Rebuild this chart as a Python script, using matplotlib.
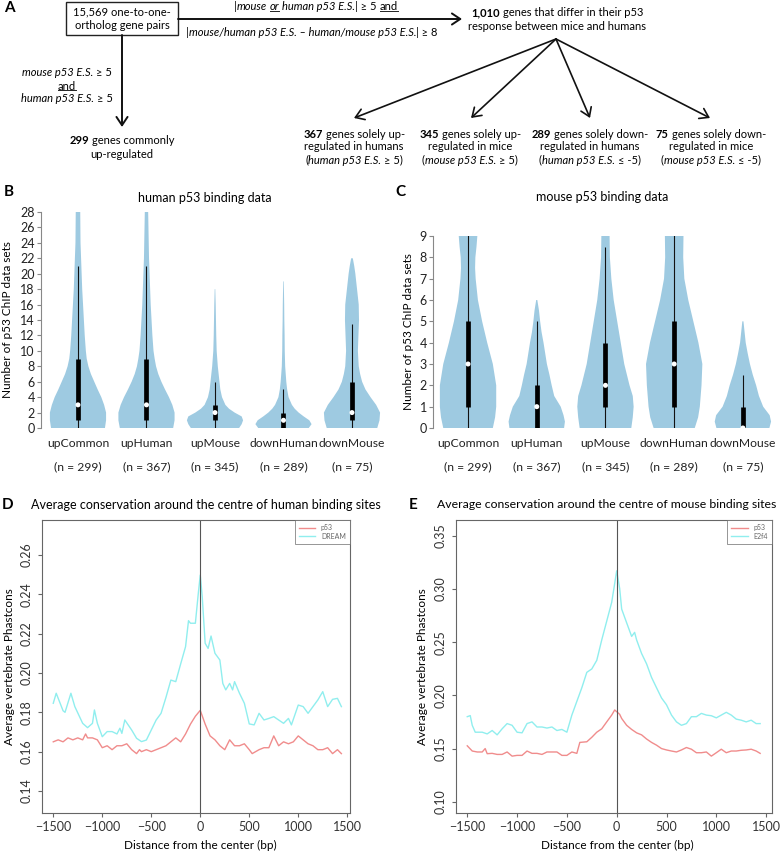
import numpy as np
import matplotlib
matplotlib.use('Agg')
import matplotlib.pyplot as plt
from matplotlib.patches import Rectangle
from matplotlib.lines import Line2D

plt.rcParams['font.family'] = ['Lato', 'DejaVu Sans']

W, H = 780, 851

# ---------------- panel B / C data ----------------
groups = ['upCommon', 'upHuman', 'upMouse', 'downHuman', 'downMouse']
group_n = [299, 367, 345, 289, 75]

# violin outlines (y level, relative half width)
hum_vy = [[0, 1, 2, 3, 4, 5, 6, 7, 8, 9, 10, 12, 14, 16, 18, 20, 22, 24, 26, 28, 29],
          [0, 1, 2, 3, 4, 5, 6, 7, 8, 9, 10, 12, 14, 16, 18, 20, 22, 24, 26, 28, 29],
          [0, 0.5, 1, 1.5, 2, 2.5, 3, 4, 5, 6, 7, 8, 10, 12, 14, 16, 18],
          [0, 0.5, 1, 1.5, 2, 2.5, 3, 4, 5, 6, 8, 10, 12, 14, 16, 19],
          [0, 1, 2, 3, 4, 5, 6, 7, 8, 10, 12, 14, 16, 18, 20, 21, 22]]
hum_vw = [[0.96, 1.0, 1.0, 0.93, 0.83, 0.7, 0.58, 0.46, 0.37, 0.31, 0.28, 0.24, 0.21, 0.18, 0.15, 0.13, 0.11, 0.09, 0.085, 0.08, 0.08],
          [0.95, 1.0, 1.0, 0.92, 0.8, 0.66, 0.53, 0.42, 0.34, 0.29, 0.25, 0.21, 0.18, 0.15, 0.13, 0.11, 0.09, 0.08, 0.07, 0.06, 0.06],
          [0.86, 0.95, 1.0, 0.95, 0.7, 0.5, 0.37, 0.25, 0.19, 0.16, 0.13, 0.1, 0.06, 0.045, 0.035, 0.025, 0.01],
          [0.9, 1.0, 0.92, 0.72, 0.54, 0.4, 0.3, 0.18, 0.13, 0.1, 0.06, 0.045, 0.04, 0.03, 0.025, 0.01],
          [0.9, 0.98, 1.0, 0.86, 0.66, 0.48, 0.36, 0.29, 0.24, 0.21, 0.23, 0.25, 0.24, 0.18, 0.12, 0.08, 0.03]]
hum_lo = [0, 0, 0, 0, 0]
hum_q1 = [1, 1, 1, 0, 1]
hum_med = [3, 3, 2, 1, 2]
hum_q3 = [9, 9, 3, 2, 6]
hum_hi = [21, 21, 6, 5, 13.5]

mus_vy = [[0, 0.5, 1, 2, 3, 4, 5, 6, 7, 7.5, 8, 8.5, 9, 9.5],
          [0, 0.3, 0.6, 1, 1.5, 2, 2.5, 3, 3.5, 4, 4.5, 5, 5.5, 6],
          [0, 0.5, 1, 1.5, 2, 3, 4, 5, 6, 7, 8, 9, 9.5],
          [0, 0.5, 1, 2, 3, 4, 5, 6, 7, 8, 9, 9.5],
          [0, 0.3, 0.6, 1, 1.5, 2, 2.5, 3, 3.5, 4, 4.5, 5]]
mus_vw = [[0.88, 0.96, 1.0, 1.0, 0.88, 0.68, 0.5, 0.35, 0.27, 0.25, 0.26, 0.3, 0.33, 0.35],
          [0.97, 1.0, 0.95, 0.85, 0.62, 0.53, 0.45, 0.36, 0.3, 0.24, 0.17, 0.12, 0.08, 0.02],
          [0.88, 0.93, 0.96, 0.93, 0.82, 0.64, 0.52, 0.4, 0.28, 0.2, 0.15, 0.14, 0.14],
          [0.73, 0.85, 0.91, 0.97, 1.0, 0.86, 0.68, 0.5, 0.36, 0.32, 0.33, 0.34],
          [0.94, 1.0, 0.95, 0.72, 0.57, 0.47, 0.35, 0.25, 0.17, 0.1, 0.06, 0.02]]
mus_lo = [0, 0, 0, 0, 0]
mus_q1 = [1, 0, 1, 1, 0]
mus_med = [3, 1, 2, 3, 0]
mus_q3 = [5, 2, 4, 5, 1]
mus_hi = [9.5, 5, 8.5, 9.5, 2.5]

# ---------------- panel D / E data ----------------
d_p53_x = [-1500, -1450, -1400, -1350, -1300, -1250, -1200, -1170, -1150, -1100, -1050, -1000,
           -950, -900, -850, -800, -750, -700, -650, -620, -600, -550, -500, -450, -400, -350,
           -300, -250, -200, -150, -100, -50, 0, 50, 100, 150, 200, 250, 300, 350, 400, 450,
           500, 530, 600, 650, 700, 750, 800, 850, 900, 950, 1000, 1050, 1100, 1150, 1200,
           1250, 1300, 1350, 1400, 1440]
d_p53 = [0.165, 0.166, 0.165, 0.167, 0.166, 0.167, 0.166, 0.169, 0.167, 0.167, 0.166, 0.162,
         0.163, 0.161, 0.163, 0.163, 0.164, 0.161, 0.159, 0.161, 0.160, 0.161, 0.160, 0.161, 0.162, 0.163,
         0.165, 0.167, 0.165, 0.169, 0.174, 0.178, 0.181, 0.174, 0.168, 0.166, 0.163, 0.161, 0.166, 0.163, 0.163, 0.164,
         0.161, 0.159, 0.161, 0.162, 0.162, 0.168, 0.163, 0.165, 0.164, 0.165, 0.168, 0.166, 0.164, 0.163, 0.161,
         0.161, 0.162, 0.159, 0.161, 0.159]
d_dream_x = [-1500, -1470, -1400, -1380, -1320, -1280, -1200, -1150, -1100, -1080, -1050, -1000,
             -950, -900, -850, -820, -800, -770, -700, -650, -600, -550, -500, -450, -400, -350,
             -300, -250, -200, -150, -120, -100, -50, -20, 0, 20, 50, 80, 110, 150, 200, 230,
             260, 300, 330, 350, 400, 450, 500, 550, 600, 650, 700, 750, 800, 850, 900, 930,
             1000, 1050, 1100, 1150, 1200, 1250, 1300, 1350, 1400, 1440]
d_dream = [0.1846, 0.1897, 0.1808, 0.180, 0.1897, 0.1829, 0.1744, 0.1722, 0.1744, 0.1812, 0.1744, 0.1676,
           0.1702, 0.1702, 0.169, 0.1719, 0.1693, 0.1761, 0.171, 0.1668, 0.1651, 0.1659, 0.171, 0.1761, 0.1795, 0.1876,
           0.1964, 0.1956, 0.2046, 0.2134, 0.2266, 0.2253, 0.2253, 0.2405, 0.2498, 0.2388, 0.2151, 0.2125, 0.2188, 0.21, 0.2066, 0.1947,
           0.1914, 0.1947, 0.1914, 0.1956, 0.1897, 0.1846, 0.1741, 0.1736, 0.1795, 0.1761, 0.1769, 0.1778, 0.1761, 0.1744, 0.1769, 0.1736,
           0.1837, 0.1829, 0.1795, 0.1829, 0.1863, 0.1905, 0.1829, 0.1866, 0.1871, 0.1829]

e_p53_x = [-1500, -1450, -1400, -1350, -1320, -1300, -1250, -1200, -1150, -1100, -1050, -1000,
           -950, -900, -850, -800, -750, -700, -650, -600, -550, -500, -450, -400, -370, -300,
           -250, -200, -150, -100, -50, -20, 0, 30, 50, 100, 150, 200, 250, 300, 350, 400,
           450, 500, 550, 600, 650, 700, 750, 800, 850, 900, 950, 1000, 1050, 1100, 1150,
           1200, 1250, 1300, 1350, 1400, 1440]
e_p53 = [0.1526, 0.1477, 0.1468, 0.1468, 0.150, 0.1452, 0.1455, 0.1445, 0.1445, 0.1468, 0.1429, 0.1436,
         0.1436, 0.1477, 0.1455, 0.1455, 0.1445, 0.1468, 0.1468, 0.1468, 0.1436, 0.1436, 0.1468, 0.1455, 0.1558, 0.1564,
         0.1606, 0.1654, 0.1686, 0.1751, 0.1815, 0.1863, 0.1847, 0.1822, 0.1783, 0.1719, 0.168, 0.1648, 0.1629, 0.159, 0.1558, 0.1532,
         0.150, 0.1487, 0.1477, 0.1468, 0.1487, 0.151, 0.1494, 0.1461, 0.1461, 0.1468, 0.1429, 0.1461, 0.1494, 0.1461, 0.1477,
         0.1477, 0.1484, 0.1487, 0.1494, 0.1477, 0.1455]
e_e2f4_x = [-1500, -1470, -1450, -1420, -1350, -1300, -1250, -1200, -1150, -1100, -1050, -1000,
            -950, -900, -850, -800, -750, -700, -650, -600, -550, -500, -450, -400, -350, -300,
            -250, -200, -150, -100, -50, 0, 30, 50, 100, 150, 180, 200, 250, 300, 350, 400,
            450, 500, 550, 600, 650, 700, 750, 800, 850, 900, 950, 1000, 1050, 1100, 1150,
            1200, 1250, 1300, 1350, 1400, 1440]
e_e2f4 = [0.180, 0.181, 0.1719, 0.1654, 0.1654, 0.1638, 0.167, 0.1629, 0.1686, 0.1735, 0.1719, 0.1654,
          0.1648, 0.1735, 0.1751, 0.1703, 0.1703, 0.1693, 0.1703, 0.167, 0.168, 0.1654, 0.1815, 0.1944, 0.2072, 0.2217,
          0.2249, 0.233, 0.2522, 0.2699, 0.2876, 0.3172, 0.3005, 0.2812, 0.2683, 0.2555, 0.2593, 0.2522, 0.2394, 0.2297, 0.2169, 0.2072,
          0.1976, 0.1912, 0.1815, 0.1751, 0.1719, 0.1735, 0.18, 0.18, 0.1831, 0.1815, 0.1809, 0.1789, 0.1815, 0.1841, 0.1815,
          0.1777, 0.1767, 0.1751, 0.1767, 0.1735, 0.1735]

VIOLIN = '#9ecae1'
RED = '#f08c8c'
CYAN = '#90eeee'
FS = 8
TFS = 9

fig = plt.figure(figsize=(W / 100, H / 100), dpi=100)


def px_axes(l, t, r, b):
    return fig.add_axes([l / W, 1 - b / H, (r - l) / W, (b - t) / H])


def ftext(x, y, s, **kw):
    return fig.text(x / W, 1 - y / H, s, **kw)


# ---------------- panel A: flow chart ----------------
axA = fig.add_axes([0, 1 - 170 / H, 1, 170 / H])
axA.set_xlim(0, W)
axA.set_ylim(170, 0)
axA.axis('off')

rich_lines = []


def rich(cx, cy, parts, size=FS):
    objs = []
    for s, st, wt, ul in parts:
        gap = 0
        if s.startswith(' '):
            s = s[1:]
            gap = 2.2
        if not objs:
            t = axA.text(cx, cy, s, ha='left', va='center', fontsize=size, fontstyle=st, fontweight=wt)
        else:
            t = axA.annotate(s, xy=(1, 0), xycoords=objs[-1][0], xytext=(gap, 0),
                             textcoords='offset points', ha='left', va='bottom',
                             fontsize=size, fontstyle=st, fontweight=wt)
        objs.append((t, ul))
    rich_lines.append((cx, objs))


N, I = 'normal', 'italic'
R, B = 'normal', 'bold'

axA.add_patch(Rectangle((66, 2), 112, 33, fill=False, lw=1, ec='#222'))
axA.text(122, 18.5, '15,569 one-to-one-\northolog gene pairs', ha='center', va='center',
         fontsize=FS, linespacing=1.35)

arrow_kw = dict(arrowstyle='->,head_length=0.6,head_width=0.4', lw=1.4, color='#111',
                shrinkA=0, shrinkB=0)
axA.annotate('', xy=(462, 19), xytext=(178, 19), arrowprops=arrow_kw)
axA.annotate('', xy=(122, 127), xytext=(122, 35), arrowprops=arrow_kw)
for tip in [(354, 118), (471, 118), (590, 118), (710, 118)]:
    axA.annotate('', xy=tip, xytext=(556, 39), arrowprops=dict(arrow_kw, lw=1.2))

rich(316, 7, [('|', N, R, False), ('mouse', I, R, False), (' or', I, R, True),
              (' human p53 E.S.', I, R, False), ('| ≥ 5', N, R, False), (' and', N, R, True)])
rich(312, 32, [('|', N, R, False), ('mouse/human p53 E.S. – human/mouse p53 E.S.', I, R, False),
               ('| ≥ 8', N, R, False)])
rich(557, 13, [('1,010', N, B, False), (' genes that differ in their p53', N, R, False)])
axA.text(557, 27, 'response between mice and humans', ha='center', va='center', fontsize=FS)

rich(67, 72, [('mouse p53 E.S.', I, R, False), (' ≥ 5', N, R, False)])
rich(67, 86, [('and', N, R, True)])
rich(67, 99, [('human p53 E.S.', I, R, False), (' ≥ 5', N, R, False)])
rich(122, 140, [('299', N, B, False), (' genes commonly', N, R, False)])
axA.text(122, 154, 'up-regulated', ha='center', va='center', fontsize=FS)

blocks = [(354, '367', ' genes solely up-', 'regulated in humans', 'human', '≥ 5'),
          (470, '345', ' genes solely up-', 'regulated in mice', 'mouse', '≥ 5'),
          (590, '289', ' genes solely down-', 'regulated in humans', 'human', '≤ -5'),
          (711, '75', ' genes solely down-', 'regulated in mice', 'mouse', '≤ -5')]
for cx, num, l1, l2, sp, cond in blocks:
    rich(cx, 134, [(num, N, B, False), (l1, N, R, False)])
    axA.text(cx, 147, l2, ha='center', va='center', fontsize=FS)
    rich(cx, 160, [('(', N, R, False), (sp + ' p53 E.S.', I, R, False), (' ' + cond + ')', N, R, False)])

# ---------------- panels B, C: violins ----------------
def violins(ax, vy, vw, lo, q1, med, q3, hi, top):
    pos = np.arange(1, 6)
    stats = []
    for k in range(5):
        stats.append(dict(coords=np.array(vy[k], float), vals=np.array(vw[k], float),
                          mean=med[k], median=med[k], min=lo[k], max=hi[k]))
    parts = ax.violin(stats, positions=pos, widths=0.82, showmeans=False,
                      showextrema=False, showmedians=False)
    for b in parts['bodies']:
        b.set_facecolor(VIOLIN)
        b.set_edgecolor('none')
        b.set_alpha(1)
    ax.vlines(pos, lo, hi, color='#111', lw=0.8)
    ax.vlines(pos, q1, q3, color='#000', lw=3.4)
    ax.scatter(pos, med, s=13, c='white', edgecolors='none', zorder=3)
    ax.set_ylim(0, top)
    for sp in ['top', 'right', 'bottom']:
        ax.spines[sp].set_visible(False)
    ax.spines['left'].set_color('#888')
    ax.spines['left'].set_linewidth(0.8)
    ax.tick_params(axis='y', length=3, color='#888', labelsize=TFS, labelcolor='#222', pad=1.5)
    ax.set_xticks(pos)
    ax.set_xticklabels([f'{g}\n\n(n = {n})' for g, n in zip(groups, group_n)],
                       fontsize=8.7, color='#222', linespacing=1.1)
    ax.tick_params(axis='x', length=0, pad=7)


axB = px_axes(41, 212, 390, 428)
violins(axB, hum_vy, hum_vw, hum_lo, hum_q1, hum_med, hum_q3, hum_hi, 28)
axB.set_xlim(0.46, 5.555)
axB.set_yticks(np.arange(0, 29, 2))

axC = px_axes(433, 236, 780, 428)
violins(axC, mus_vy, mus_vw, mus_lo, mus_q1, mus_med, mus_q3, mus_hi, 9)
axC.set_xlim(0.49, 5.54)
axC.set_yticks(np.arange(0, 10, 1))

ftext(205, 198, 'human p53 binding data', ha='center', va='center', fontsize=9)
ftext(602, 197, 'mouse p53 binding data', ha='center', va='center', fontsize=9)
ftext(8, 320, 'Number of p53 ChIP data sets', rotation=90, ha='center', va='center', fontsize=8.5)
ftext(409, 332, 'Number of p53 ChIP data sets', rotation=90, ha='center', va='center', fontsize=8.5)


# ---------------- panels D, E: conservation profiles ----------------
def profile(ax, xs1, ys1, xs2, ys2, lab2, xlim, ylim, yticks):
    ax.plot(xs1, ys1, color=RED, lw=1.0, label='p53')
    ax.plot(xs2, ys2, color=CYAN, lw=1.0, label=lab2)
    ax.axvline(0, color='#555', lw=0.8)
    ax.set_xlim(*xlim)
    ax.set_ylim(*ylim)
    ax.set_xticks([-1500, -1000, -500, 0, 500, 1000, 1500])
    ax.set_yticks(yticks)
    ax.set_yticklabels([f'{v:.2f}' for v in yticks], rotation=90, va='center')
    for sp in ax.spines.values():
        sp.set_color('#666')
        sp.set_linewidth(0.8)
    ax.tick_params(length=3, color='#666', labelsize=TFS, labelcolor='#333')
    ax.tick_params(axis='x', pad=2.5)
    ax.tick_params(axis='y', pad=3.5)
    leg = ax.legend(loc='upper right', fontsize=5, frameon=True, fancybox=False,
                    borderaxespad=0, handlelength=2.4, labelcolor='#666',
                    borderpad=0.6, labelspacing=0.25)
    leg.get_frame().set_edgecolor('#666')
    leg.get_frame().set_linewidth(0.6)


axD = px_axes(42, 520, 350, 813)
profile(axD, d_p53_x, d_p53, d_dream_x, d_dream, 'DREAM', (-1615, 1528), (0.1288, 0.2778),
        [0.14, 0.16, 0.18, 0.20, 0.22, 0.24, 0.26])
axE = px_axes(456, 520, 772, 813)
profile(axE, e_p53_x, e_p53, e_e2f4_x, e_e2f4, 'E2f4', (-1613, 1559), (0.0894, 0.365),
        [0.10, 0.15, 0.20, 0.25, 0.30, 0.35])

ftext(206, 505, 'Average conservation around the centre of human binding sites',
      ha='center', va='center', fontsize=9)
ftext(437, 505, 'Average conservation around the centre of mouse binding sites',
      ha='left', va='center', fontsize=8.8)
ftext(10, 667, 'Average vertebrate Phastcons', rotation=90, ha='center', va='center', fontsize=8.5)
ftext(423, 667, 'Average vertebrate Phastcons', rotation=90, ha='center', va='center', fontsize=8.5)
ftext(200, 845, 'Distance from the center (bp)', ha='center', va='center', fontsize=8.5)
ftext(617, 845, 'Distance from the center (bp)', ha='center', va='center', fontsize=8.5)

# panel letters
for lab, x, y in [('A', 9, 8), ('B', 9, 192), ('C', 400, 192), ('D', 8, 505), ('E', 413, 505)]:
    ftext(x, y, lab, ha='center', va='center', fontsize=11, fontweight='bold')

# centre the mixed-style lines, then underline
fig.canvas.draw()
rend = fig.canvas.get_renderer()
for cx, objs in rich_lines:
    x0 = objs[0][0].get_window_extent(rend).x0
    x1 = objs[-1][0].get_window_extent(rend).x1
    objs[0][0].set_x(cx - (x1 - x0) / 2)
fig.canvas.draw()
inv = axA.transData.inverted()
for cx, objs in rich_lines:
    for t, ul in objs:
        if ul:
            bb = t.get_window_extent(rend)
            (ax0, ay), (ax1, _) = inv.transform([(bb.x0, bb.y0 + 1.6), (bb.x1, bb.y0 + 1.6)])
            axA.add_line(Line2D([ax0, ax1], [ay, ay], color='#222', lw=0.7))

fig.savefig('out.png', dpi=100)
